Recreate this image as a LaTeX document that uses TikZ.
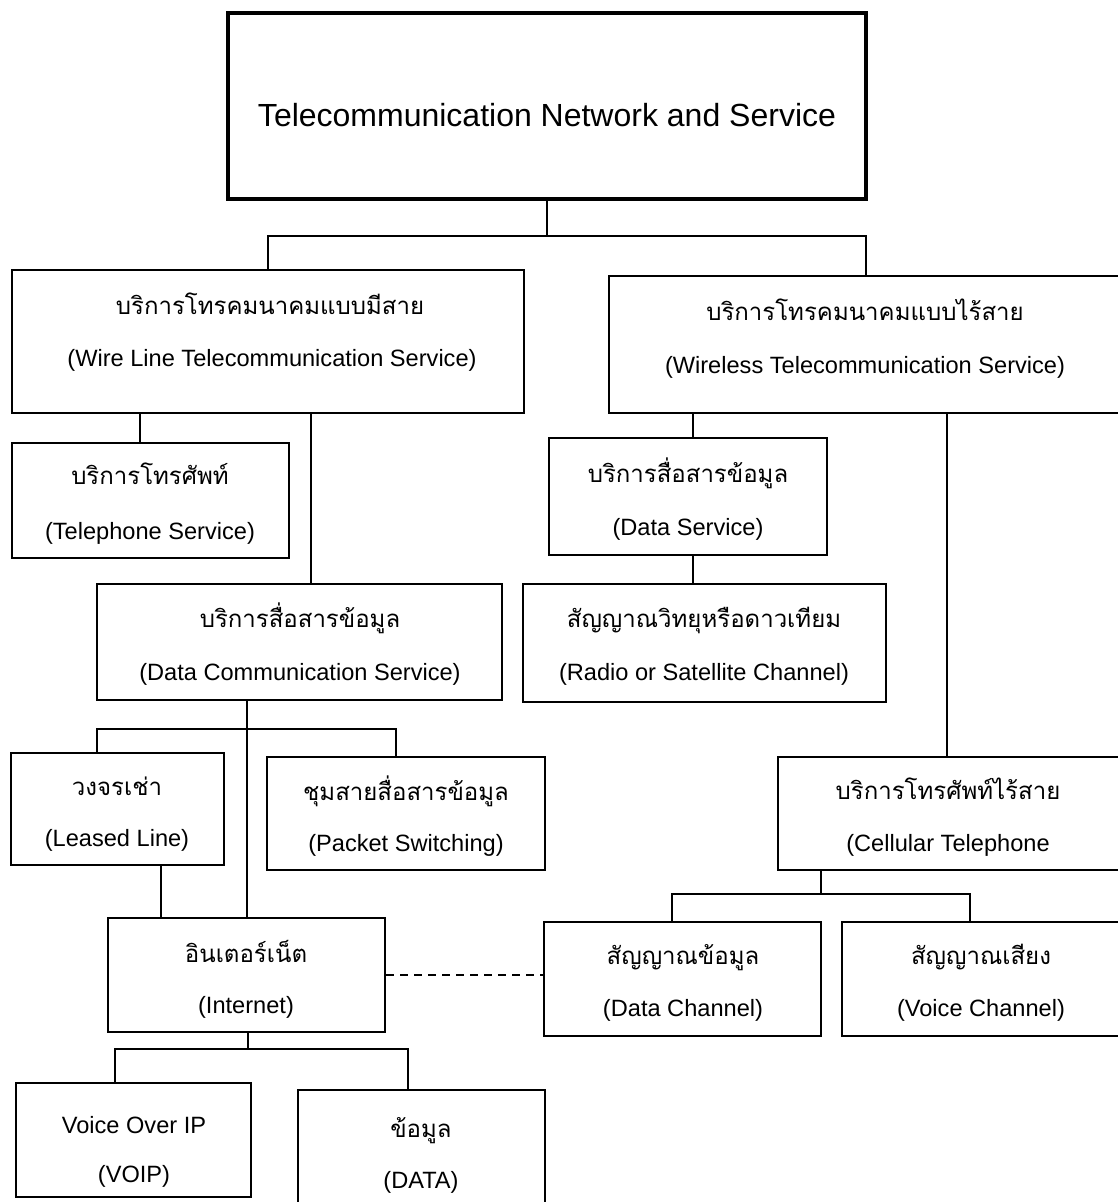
\documentclass[tikz,border=0pt]{standalone}
\usepackage{fontspec}
\setmainfont{Liberation Sans}
\newfontfamily\thaifont[Script=Thai]{Loma}
\usetikzlibrary{fit}
\tikzset{
  box/.style={draw, rectangle, line width=2.4pt, inner sep=0pt},
  titlebox/.style={draw, rectangle, line width=3.2pt, inner sep=0pt},
  conn/.style={line width=2pt},
  dashconn/.style={line width=2pt, dash pattern=on 8pt off 6pt},
  eng/.style={anchor=base, inner sep=0pt, font=\fontsize{23.6}{28}\selectfont},
  thai/.style={anchor=base, inner sep=0pt, font=\thaifont\fontsize{24}{28}\selectfont},
  ttl/.style={anchor=base, inner sep=0pt, font=\fontsize{32}{37}\selectfont}
}
\begin{document}
\begin{tikzpicture}[x=1pt,y=-1pt]
\useasboundingbox (0,0) rectangle (1118,1202);
\clip (0,0) rectangle (1118,1202);
\fill[white] (0,0) rectangle (1118,1202);
% boxes
\node[titlebox, fit={(228,13) (866,199)}] (top) {};
\node[box, fit={(12,270) (524,413)}] (wire) {};
\node[box, fit={(609,276) (1124,413)}] (wireless) {};
\node[box, fit={(12,443) (289,558)}] (tel) {};
\node[box, fit={(97,584) (502,700)}] (datacomm) {};
\node[box, fit={(549,438) (827,555)}] (dataserv) {};
\node[box, fit={(523,584) (886,702)}] (radio) {};
\node[box, fit={(11,753) (224,865)}] (leased) {};
\node[box, fit={(267,757) (545,870)}] (packet) {};
\node[box, fit={(778,757) (1124,870)}] (cellular) {};
\node[box, fit={(108,918) (385,1032)}] (internet) {};
\node[box, fit={(544,922) (821,1036)}] (datach) {};
\node[box, fit={(842,922) (1124,1036)}] (voice) {};
\node[box, fit={(16,1083) (251,1197)}] (voip) {};
\node[box, fit={(298,1090) (545,1220)}] (data) {};
% texts
\node[ttl] (top-t) at (547,126) {Telecommunication Network and Service};
\node[thai] (wire-th) at (270,314) {บริการโทรคมนาคมแบบมีสาย};
\node[eng] (wire-en) at (272,366) {(Wire Line Telecommunication Service)};
\node[thai] (wireless-th) at (865,320) {บริการโทรคมนาคมแบบไร้สาย};
\node[eng] (wireless-en) at (865,373) {(Wireless Telecommunication Service)};
\node[thai] (tel-th) at (150,484) {บริการโทรศัพท์};
\node[eng] (tel-en) at (150,539) {(Telephone Service)};
\node[thai] (dataserv-th) at (688,482) {บริการสื่อสารข้อมูล};
\node[eng] (dataserv-en) at (688,535) {(Data Service)};
\node[thai] (datacomm-th) at (300,627) {บริการสื่อสารข้อมูล};
\node[eng] (datacomm-en) at (300,680) {(Data Communication Service)};
\node[thai] (radio-th) at (704,627) {สัญญาณวิทยุหรือดาวเทียม};
\node[eng] (radio-en) at (704,680) {(Radio or Satellite Channel)};
\node[thai] (leased-th) at (117,795) {วงจรเช่า};
\node[eng] (leased-en) at (117,846) {(Leased Line)};
\node[thai] (packet-th) at (406,800) {ชุมสายสื่อสารข้อมูล};
\node[eng] (packet-en) at (406,851) {(Packet Switching)};
\node[thai] (cellular-th) at (948,799) {บริการโทรศัพท์ไร้สาย};
\node[eng] (cellular-en) at (948,851) {(Cellular Telephone};
\node[thai] (internet-th) at (246,962) {อินเตอร์เน็ต};
\node[eng] (internet-en) at (246,1013) {(Internet)};
\node[thai] (datach-th) at (683,964) {สัญญาณข้อมูล};
\node[eng] (datach-en) at (683,1016) {(Data Channel)};
\node[thai] (voice-th) at (981,964) {สัญญาณเสียง};
\node[eng] (voice-en) at (981,1016) {(Voice Channel)};
\node[eng] (voip-en1) at (134,1133) {Voice Over IP};
\node[eng] (voip-en2) at (134,1182) {(VOIP)};
\node[thai] (data-th) at (421,1137) {ข้อมูล};
\node[eng] (data-en) at (421,1188) {(DATA)};
% junction coordinates
\coordinate (j1) at (547,236);
\coordinate (j1l) at (268,236);
\coordinate (j1r) at (866,236);
\coordinate (xTel) at (140,0);
\coordinate (xDC) at (311,0);
\coordinate (xDS) at (693,0);
\coordinate (xCell) at (947,0);
\coordinate (xInt) at (247,0);
\coordinate (xLL) at (161,0);
\coordinate (jDCl) at (97,729);
\coordinate (jDCr) at (396,729);
\coordinate (jI) at (248,1049);
\coordinate (jIl) at (115,1049);
\coordinate (jIr) at (408,1049);
\coordinate (jC) at (821,894);
\coordinate (jCl) at (672,894);
\coordinate (jCr) at (970,894);
% connectors
\draw[conn] (top.south -| j1) -- (j1);
\draw[conn] (wire.north -| j1l) |- (j1r) -- (wireless.north -| j1r);
\draw[conn] (wire.south -| xTel) -- (tel.north -| xTel);
\draw[conn] (wire.south -| xDC) -- (datacomm.north -| xDC);
\draw[conn] (wireless.south -| xDS) -- (dataserv.north -| xDS);
\draw[conn] (dataserv.south -| xDS) -- (radio.north -| xDS);
\draw[conn] (wireless.south -| xCell) -- (cellular.north -| xCell);
\draw[conn] (datacomm.south -| xInt) -- (internet.north -| xInt);
\draw[conn] (leased.north -| jDCl) |- (jDCr) -- (packet.north -| jDCr);
\draw[conn] (leased.south -| xLL) -- (internet.north -| xLL);
\draw[conn] (internet.south -| jI) -- (jI);
\draw[conn] (voip.north -| jIl) |- (jIr) -- (data.north -| jIr);
\draw[conn] (cellular.south -| jC) -- (jC);
\draw[conn] (datach.north -| jCl) |- (jCr) -- (voice.north -| jCr);
\draw[dashconn] (internet.east) -- (internet.east -| datach.west);
\end{tikzpicture}
\end{document}
